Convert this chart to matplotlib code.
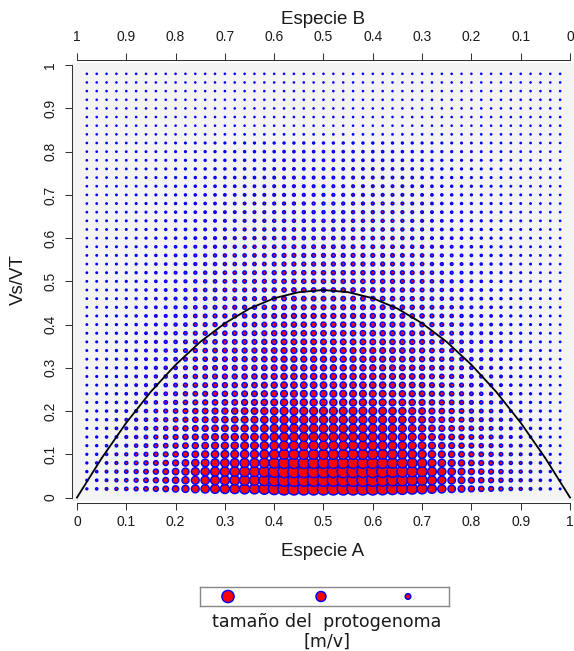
import numpy as np
import matplotlib
matplotlib.use("Agg")
import matplotlib.pyplot as plt

# malla de valores (Especie A en x, Vs/VT en y)
especie_a = np.round(np.arange(0.02, 0.99, 0.02), 2)
vs_vt = np.round(np.arange(0.02, 0.99, 0.02), 2)

# perfil relativo del tamaño del protogenoma a lo largo de x (fila inferior)
perfil_x = [0.07, 0.10, 0.13, 0.17, 0.20, 0.25, 0.30, 0.35, 0.40, 0.47,
            0.53, 0.60, 0.65, 0.70, 0.73, 0.75, 0.80, 0.80, 0.87, 0.93,
            1.00, 1.00, 1.00, 1.00, 1.00, 1.00, 1.00, 1.00, 1.00, 1.00,
            0.97, 0.93, 0.90, 0.85, 0.80, 0.70, 0.63, 0.57, 0.50, 0.43,
            0.37, 0.33, 0.27, 0.20, 0.17, 0.13, 0.10, 0.07, 0.03]
# perfil relativo a lo largo de y (columna central)
perfil_y = [1.00, 1.00, 1.00, 0.90, 0.80, 0.73, 0.70, 0.67, 0.63, 0.60,
            0.53, 0.50, 0.47, 0.45, 0.44, 0.43, 0.42, 0.40, 0.38, 0.36,
            0.34, 0.32, 0.30, 0.29, 0.28, 0.27, 0.25, 0.24, 0.22, 0.20,
            0.19, 0.18, 0.17, 0.16, 0.15, 0.14, 0.13, 0.12, 0.11, 0.10,
            0.08, 0.02, 0.00, 0.00, 0.00, 0.00, 0.00, 0.00, 0.00]

# curva limite
curva_x = [0.0, 0.05, 0.1, 0.15, 0.2, 0.25, 0.3, 0.35, 0.4, 0.45, 0.5,
           0.55, 0.6, 0.65, 0.7, 0.75, 0.8, 0.85, 0.9, 0.95, 1.0]
curva_y = [0.0, 0.091, 0.173, 0.245, 0.307, 0.36, 0.403, 0.437, 0.461, 0.475, 0.48,
           0.475, 0.461, 0.437, 0.403, 0.36, 0.307, 0.245, 0.173, 0.091, 0.0]

leyenda_valores = [1.0, 0.8, 0.4]
ticks = [0, 0.1, 0.2, 0.3, 0.4, 0.5, 0.6, 0.7, 0.8, 0.9, 1]
tick_labels = ["0", "0.1", "0.2", "0.3", "0.4", "0.5", "0.6", "0.7", "0.8", "0.9", "1"]

W, H = 574, 651
fig = plt.figure(figsize=(W / 100, H / 100), dpi=100)
plt.rcParams['font.family'] = ['Liberation Sans', 'DejaVu Sans']
gris = '#333333'
txt = '#1a1a1a'
lw_borde = 1.05

def diam_pt(v):
    # diametro visual en px -> tamaño scatter
    d_px = 2.6 + 11 * np.asarray(v)
    ms = np.maximum(d_px * 0.72 - lw_borde, 0.3)
    return ms ** 2

ax = fig.add_axes([72 / W, (H - 501) / H, (W - 72) / W, (501 - 63) / H])
ax.set_facecolor('#f4f4f4')
ax.set_xlim(-0.0101, 1.0081)
ax.set_ylim(-0.008, 1.005)

X, Y = np.meshgrid(especie_a, vs_vt, indexing='ij')
V = np.outer(perfil_x, perfil_y)
ax.scatter(X.ravel(), Y.ravel(), s=diam_pt(V.ravel()), c='red',
           edgecolors='blue', linewidths=lw_borde, zorder=2)
ax.plot(curva_x, curva_y, color='black', lw=1.3, zorder=3)

for side in ['right', 'top']:
    ax.spines[side].set_visible(False)
ax.spines['left'].set_bounds(0, 1)
ax.spines['bottom'].set_bounds(0, 1)
ax.spines['bottom'].set_position(('outward', 1.5))
for side in ['left', 'bottom']:
    ax.spines[side].set_color(gris)
    ax.spines[side].set_linewidth(0.75)
ax.set_xticks(ticks, tick_labels)
ax.set_yticks(ticks, tick_labels)
ax.tick_params(axis='x', length=5, width=0.75, color=gris, pad=3.5, labelsize=10, labelcolor=txt)
ax.tick_params(axis='y', length=5, width=0.75, color=gris, pad=5.5, labelsize=10, labelcolor=txt)
for lab in ax.get_yticklabels():
    lab.set_rotation(90)
    lab.set_va('center')

ax2 = ax.twiny()
ax2.set_xlim(1.0101, -0.0081)
for side in ['right', 'bottom', 'left']:
    ax2.spines[side].set_visible(False)
ax2.spines['top'].set_bounds(0, 1)
ax2.spines['top'].set_position(('outward', 2.2))
ax2.spines['top'].set_color(gris)
ax2.spines['top'].set_linewidth(0.75)
ax2.set_xticks(ticks, tick_labels)
ax2.tick_params(axis='x', length=5, width=0.75, color=gris, pad=6.5, labelsize=10, labelcolor=txt)

fig.text(323 / W, 1 - 19 / H, "Especie B", ha='center', va='center', fontsize=13.5, color=txt)
fig.text(323 / W, 1 - 552 / H, "Especie A", ha='center', va='center', fontsize=13.5, color=txt)
fig.text(18 / W, 1 - 280 / H, "Vs/VT", ha='center', va='center', fontsize=13.5, rotation=90, color=txt)

# leyenda
lax = fig.add_axes([200 / W, (H - 606) / H, 249 / W, 19 / H])
lax.set_xlim(0, 249)
lax.set_ylim(0, 19)
lax.set_xticks([])
lax.set_yticks([])
for sp in lax.spines.values():
    sp.set_color('#888888')
    sp.set_linewidth(1.0)
lax.scatter([28, 121, 208], [9.5, 9.5, 9.5], s=diam_pt(np.array(leyenda_valores)),
            c='red', edgecolors='blue', linewidths=1.1, clip_on=False)
fig.text(327 / W, 1 - 622 / H, "tamaño del  protogenoma", ha='center', va='center',
         fontsize=12.6, family='DejaVu Sans', color=txt)
fig.text(327 / W, 1 - 642 / H, "[m/v]", ha='center', va='center',
         fontsize=12.6, family='DejaVu Sans', color=txt)

fig.savefig("out.png", dpi=100)
